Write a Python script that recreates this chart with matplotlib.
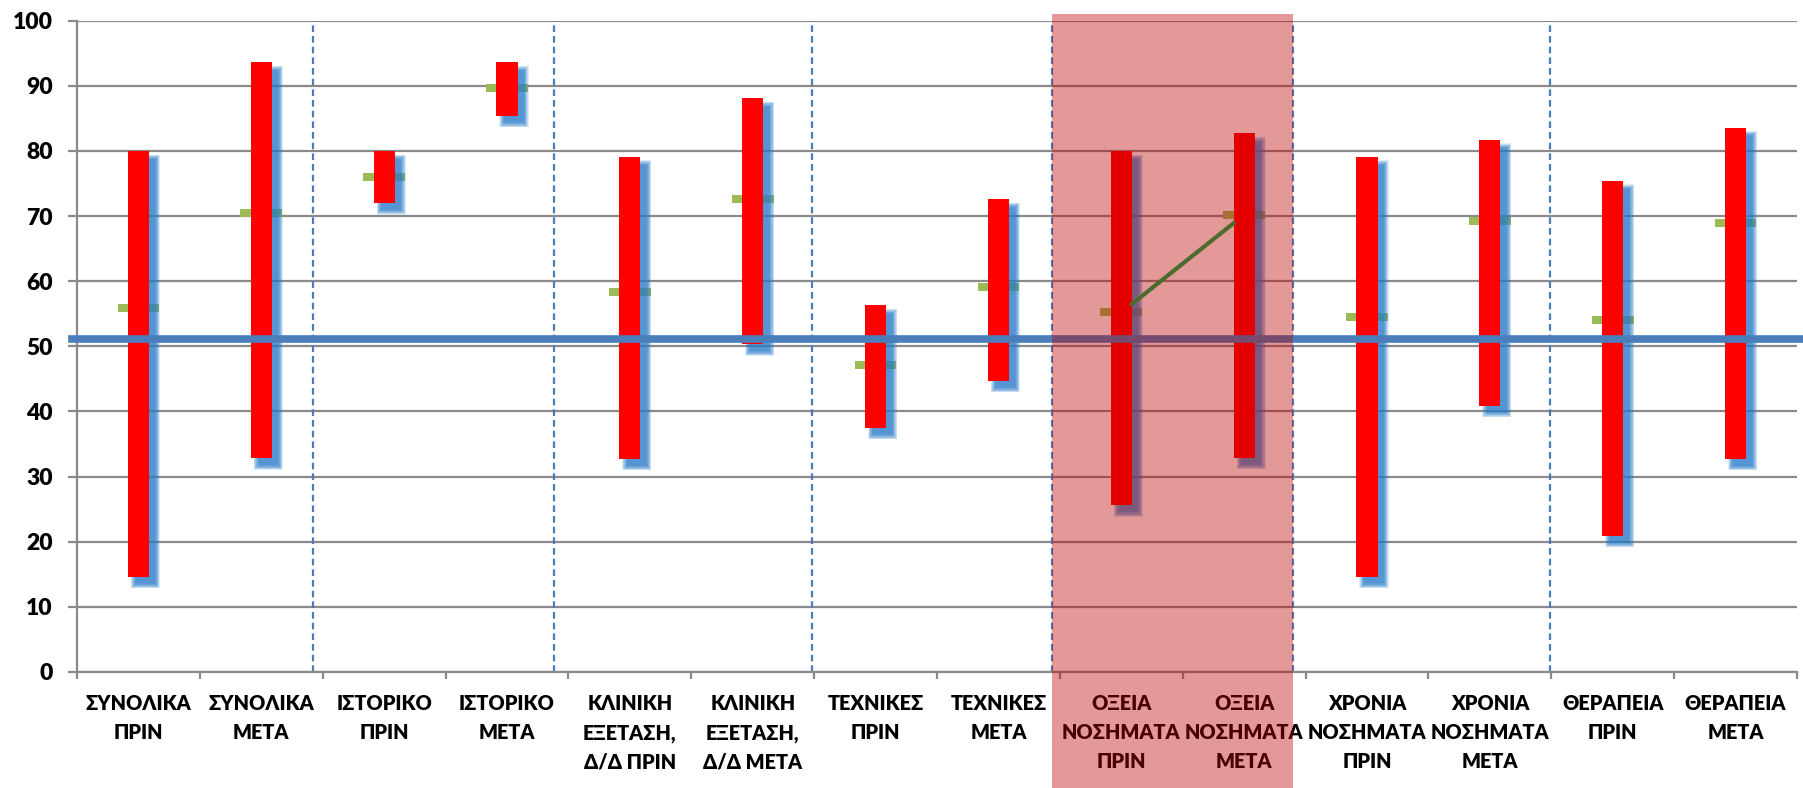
import matplotlib
matplotlib.use("Agg")
import matplotlib.pyplot as plt
import matplotlib.transforms as mtransforms
from matplotlib.patches import Rectangle
from matplotlib.lines import Line2D

categories = ["ΣΥΝΟΛΙΚΑ\nΠΡΙΝ", "ΣΥΝΟΛΙΚΑ\nΜΕΤΑ", "ΙΣΤΟΡΙΚΟ\nΠΡΙΝ", "ΙΣΤΟΡΙΚΟ\nΜΕΤΑ",
              "ΚΛΙΝΙΚΗ\nΕΞΕΤΑΣΗ,\nΔ/Δ ΠΡΙΝ", "ΚΛΙΝΙΚΗ\nΕΞΕΤΑΣΗ,\nΔ/Δ ΜΕΤΑ",
              "ΤΕΧΝΙΚΕΣ\nΠΡΙΝ", "ΤΕΧΝΙΚΕΣ\nΜΕΤΑ",
              "ΟΞΕΙΑ\nΝΟΣΗΜΑΤΑ\nΠΡΙΝ", "ΟΞΕΙΑ\nΝΟΣΗΜΑΤΑ\nΜΕΤΑ",
              "ΧΡΟΝΙΑ\nΝΟΣΗΜΑΤΑ\nΠΡΙΝ", "ΧΡΟΝΙΑ\nΝΟΣΗΜΑΤΑ\nΜΕΤΑ",
              "ΘΕΡΑΠΕΙΑ\nΠΡΙΝ", "ΘΕΡΑΠΕΙΑ\nΜΕΤΑ"]
high = [80.0, 93.6, 80.0, 93.6, 79.1, 88.1, 56.3, 72.6, 80.0, 82.7, 79.1, 81.7, 75.4, 83.6]
low = [14.6, 32.8, 72.0, 85.4, 32.7, 50.3, 37.5, 44.7, 25.6, 32.9, 14.6, 40.9, 20.9, 32.7]
mean = [55.9, 70.4, 76.0, 89.6, 58.4, 72.6, 47.2, 59.1, 55.2, 70.2, 54.5, 69.3, 54.0, 69.0]
reference_value = 51.2
yticks = [0, 10, 20, 30, 40, 50, 60, 70, 80, 90, 100]

FONT = ["Lato", "DejaVu Sans"]
plt.rcParams['font.family'] = FONT

W, H = 1803, 788
fig = plt.figure(figsize=(W / 100, H / 100), dpi=100)
ax = fig.add_axes([77 / W, 1 - 672 / H, (1797 - 77) / W, (672 - 20.7) / H])
n = len(categories)
ax.set_xlim(-0.5, n - 0.5)
ax.set_ylim(0, 100)

# pixel -> data conversions
px_x = n / (1797 - 77)
px_y = 100 / (672 - 20.7)

for y in yticks:
    ax.axhline(y, color="#8a8a8a", lw=1.6, zorder=0.5)

bw = 0.172
mw = 0.34
mh = 8 * px_y
nl = 10
for i in range(n):
    # mean marker
    ax.add_patch(Rectangle((i - mw / 2, mean[i] - mh / 2), mw, mh,
                           facecolor="#9BBB59", edgecolor="none", zorder=2))
    # blurred blue shadow
    offx, offy = 7 * px_x, -7.5 * px_y
    for k in range(nl):
        g = (nl - 1 - k) * 0.55 - 1.0
        ax.add_patch(Rectangle((i - bw / 2 + offx - g * px_x, low[i] + offy - g * px_y),
                               bw + 2 * g * px_x, high[i] - low[i] + 2 * g * px_y,
                               facecolor="#2A7CC9", edgecolor="none", alpha=0.14, zorder=2.5))
    # red range bar
    ax.add_patch(Rectangle((i - bw / 2, low[i]), bw, high[i] - low[i],
                           facecolor="#FF0000", edgecolor="none", zorder=3))

ax.axhline(reference_value, xmin=-0.003, xmax=1.01, color="#4A7EBB", lw=5.5,
           zorder=4, clip_on=False)

# dashed group separators
for xs in [1.42, 3.38, 5.48, 7.435, 9.4, 11.49]:
    ax.plot([xs, xs], [0, 100], color="#4A7EBB", lw=1.6, ls=(0, (3, 1.8)), zorder=1)

for s in ["top", "right"]:
    ax.spines[s].set_visible(False)
for s in ["left", "bottom"]:
    ax.spines[s].set_color("#8a8a8a")
    ax.spines[s].set_linewidth(1.6)

ax.set_yticks(yticks)
ax.set_yticklabels([str(v) for v in yticks], fontsize=16.5, fontweight="heavy")
ax.tick_params(axis="y", length=6.5, width=1.6, color="#8a8a8a", pad=11)
ax.set_xticks(range(n))
ax.set_xticklabels(categories, fontsize=14.3, fontweight="heavy", linespacing=1.62)
ax.tick_params(axis="x", which="major", length=0, pad=16)
ax.set_xticks([i + 0.5 for i in range(-1, n)], minor=True)
ax.tick_params(axis="x", which="minor", length=5, width=1.6, color="#8a8a8a")

# highlighted region (overlay)
trans = mtransforms.blended_transform_factory(ax.transData, fig.transFigure)
fig.add_artist(Rectangle((7.435, 0), 9.4 - 7.435, 1 - 13.8 / H, transform=trans,
                         facecolor="#BD0000", alpha=0.4, edgecolor="none", zorder=5))

# connecting line between the two highlighted means, from bar edge to bar edge
x0, x1 = 8, 9
y0, y1 = mean[8], mean[9]
xa, xb = x0 + bw / 2, x1 - bw / 2
ya = y0 + (y1 - y0) * (xa - x0) / (x1 - x0)
yb = y0 + (y1 - y0) * (xb - x0) / (x1 - x0)
fig.add_artist(Line2D([xa, xb], [ya, yb], transform=ax.transData, color="#4E6B2E",
                      lw=3, zorder=6))

fig.savefig("out.png", dpi=100)
